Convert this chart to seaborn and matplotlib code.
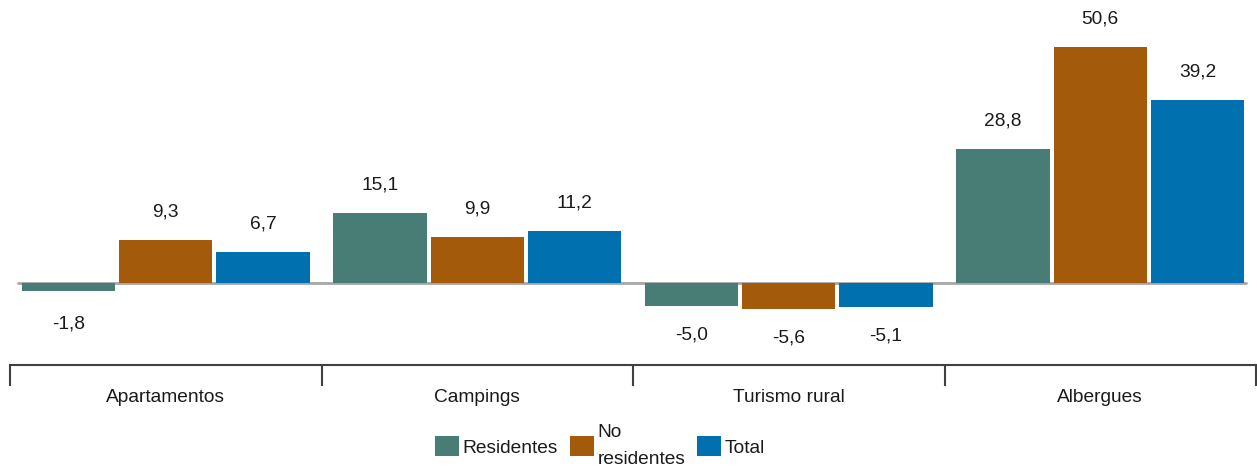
import matplotlib
matplotlib.use("Agg")
import matplotlib.pyplot as plt
import seaborn as sns
import pandas as pd
from matplotlib.patches import Patch

categories = ["Apartamentos", "Campings", "Turismo rural", "Albergues"]
series = ["Residentes", "No\nresidentes", "Total"]
residentes = [-1.8, 15.1, -5.0, 28.8]
no_residentes = [9.3, 9.9, -5.6, 50.6]
total = [6.7, 11.2, -5.1, 39.2]
colors = ["#477d74", "#a35b0b", "#0070ae"]

rows = []
for s, vals in zip(series, [residentes, no_residentes, total]):
    for c, v in zip(categories, vals):
        rows.append({"cat": c, "serie": s, "valor": v})
df = pd.DataFrame(rows)

sns.set_theme(style="white")
plt.rcParams["font.family"] = ["Liberation Sans", "DejaVu Sans"]

FS = 13.8
W, H = 1257, 469
fig = plt.figure(figsize=(W / 100, H / 100), dpi=100)
ax = fig.add_axes([10 / W, 1 - 365 / H, 1246 / W, 365 / H])

sns.barplot(data=df, x="cat", y="valor", hue="serie", hue_order=series,
            palette=colors, width=0.936, gap=0.04, ax=ax, legend=False,
            saturation=1, linewidth=0)

ppu = 4.66
ax.set_ylim(-82 / ppu, 283 / ppu)
ax.set_xlim(-0.5, 3.5)
ax.axhline(0, xmin=8 / 1246, xmax=1236 / 1246, color="#a6a6a6", lw=2, zorder=0.5)

for cont in ax.containers:
    for bar in cont:
        v = bar.get_height()
        xc = bar.get_x() + bar.get_width() / 2
        txt = f"{v:.1f}".replace(".", ",")
        if v >= 0:
            ax.annotate(txt, (xc, v), xytext=(0, 28), textcoords="offset pixels",
                        ha="center", va="center", fontsize=FS, color="#1a1a1a")
        else:
            off = -33 if v > -3 else -29
            ax.annotate(txt, (xc, v), xytext=(0, off), textcoords="offset pixels",
                        ha="center", va="center", fontsize=FS, color="#1a1a1a")

for sp in ["top", "left", "right"]:
    ax.spines[sp].set_visible(False)
ax.spines["bottom"].set_color("#404040")
ax.spines["bottom"].set_linewidth(1.5)
ax.set_yticks([])
ax.set_xticks([-0.5, 0.5, 1.5, 2.5, 3.5])
ax.set_xticklabels([])
ax.tick_params(axis="x", which="major", length=15, width=1.5, color="#404040",
               direction="out", bottom=True)
ax.set_xticks([0, 1, 2, 3], minor=True)
ax.set_xticklabels(categories, minor=True, fontsize=FS, color="#1a1a1a")
ax.tick_params(axis="x", which="minor", length=0, pad=17)
ax.set_xlabel("")
ax.set_ylabel("")

handles = [Patch(facecolor=c, edgecolor="none") for c in colors]
leg = fig.legend(handles, series, loc="center", bbox_to_anchor=(600 / W, 1 - 446 / H),
                 ncol=3, frameon=False, fontsize=FS, handlelength=1.25, handleheight=1.25,
                 handletextpad=0.2, columnspacing=0.6, borderpad=0)
for t in leg.get_texts():
    t.set_linespacing(1.75)
    t.set_color("#1a1a1a")

fig.savefig("out.png", dpi=100)
